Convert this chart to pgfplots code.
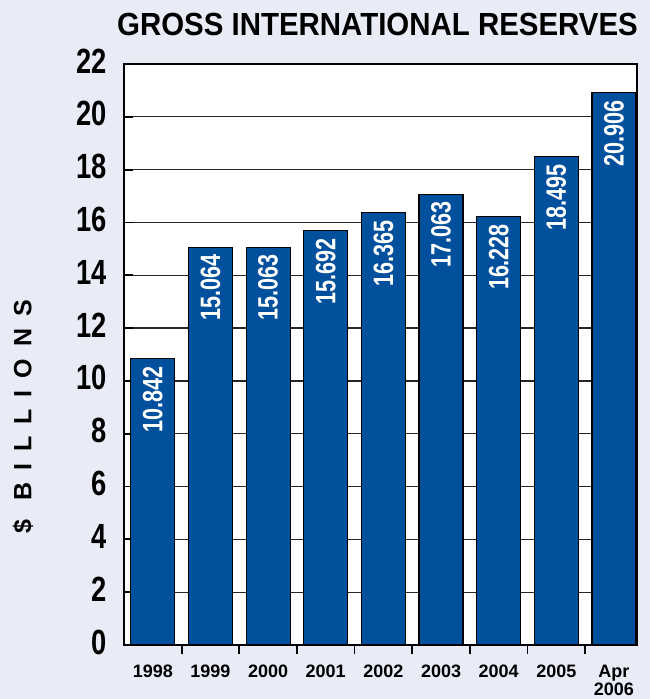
\documentclass[border=0pt]{standalone}
\usepackage{pgfplots}
\pgfplotsset{compat=1.18}
\usepackage{fontspec}
\setmainfont{Liberation Sans}
\newfontfamily\tickfont[FakeStretch=0.78]{Liberation Sans}
\newfontfamily\valfont[FakeStretch=0.77]{Liberation Sans}
\newfontfamily\xlabfont[FakeStretch=1.0]{Liberation Sans}
\newfontfamily\titlefont[FakeStretch=0.92]{Liberation Sans}
\newfontfamily\ylabfont[LetterSpace=48]{Liberation Sans}
\definecolor{bg}{RGB}{233,236,246}
\definecolor{barblue}{RGB}{0,80,158}
\begin{document}
\begin{tikzpicture}[x=1pt,y=1pt]
\fill[bg] (0,0) rectangle (650,699);
\useasboundingbox (0,0) rectangle (650,699);
\node[font=\titlefont\bfseries\fontsize{32}{32}\selectfont, inner sep=0pt] at (377.5,674.5) {GROSS INTERNATIONAL RESERVES};
\node[font=\ylabfont\bfseries\fontsize{25}{25}\selectfont, rotate=90, inner sep=0pt] at (23,282) {\$ BILLIONS};
\begin{axis}[
  at={(124pt,54pt)}, anchor=south west,
  width=513pt, height=581pt, scale only axis,
  xmin=-0.5, xmax=8.4, ymin=0, ymax=22,
  ytick={0,2,...,22},
  xtick={0.5,1.5,...,7.5},
  xticklabels={},
  extra x ticks={0,1,...,8},
  extra x tick labels={1998,1999,2000,2001,2002,2003,2004,2005,{Apr\\2006}},
  extra x tick style={major tick length=0pt, grid=none},
  major tick length=9pt,
  tick pos=left,
  tick align=inside,
  ymajorgrids,
  grid style={black!85, line width=1.3pt},
  axis line style={black, line width=1.8pt},
  tick style={black, line width=1.8pt},
  axis background/.style={fill=white},
  /pgf/number format/assume math mode=true,
  yticklabel style={font=\tickfont\bfseries\fontsize{35}{35}\selectfont, inner sep=0pt, anchor=east, xshift=-17pt, yshift=3pt},
  xticklabel style={font=\xlabfont\bfseries\fontsize{18}{18}\selectfont, align=center, anchor=north, inner sep=0pt, yshift=-20pt},
  ybar, bar width=44pt,
  point meta=explicit symbolic,
  nodes near coords,
  every node near coord/.append style={rotate=90, anchor=east, font=\valfont\bfseries\fontsize{28}{28}\selectfont, text=white, inner xsep=7pt, inner ysep=0pt},
]
\addplot[fill=barblue, draw=black, line width=1.2pt, bar shift=0pt] coordinates {
 (0,10.842) [10.842]
 (1,15.064) [15.064]
 (2,15.063) [15.063]
 (3,15.692) [15.692]
 (4,16.365) [16.365]
 (5,17.063) [17.063]
 (6,16.228) [16.228]
 (7,18.495) [18.495]
 (8,20.906) [20.906]
};
\end{axis}
\end{tikzpicture}
\end{document}
